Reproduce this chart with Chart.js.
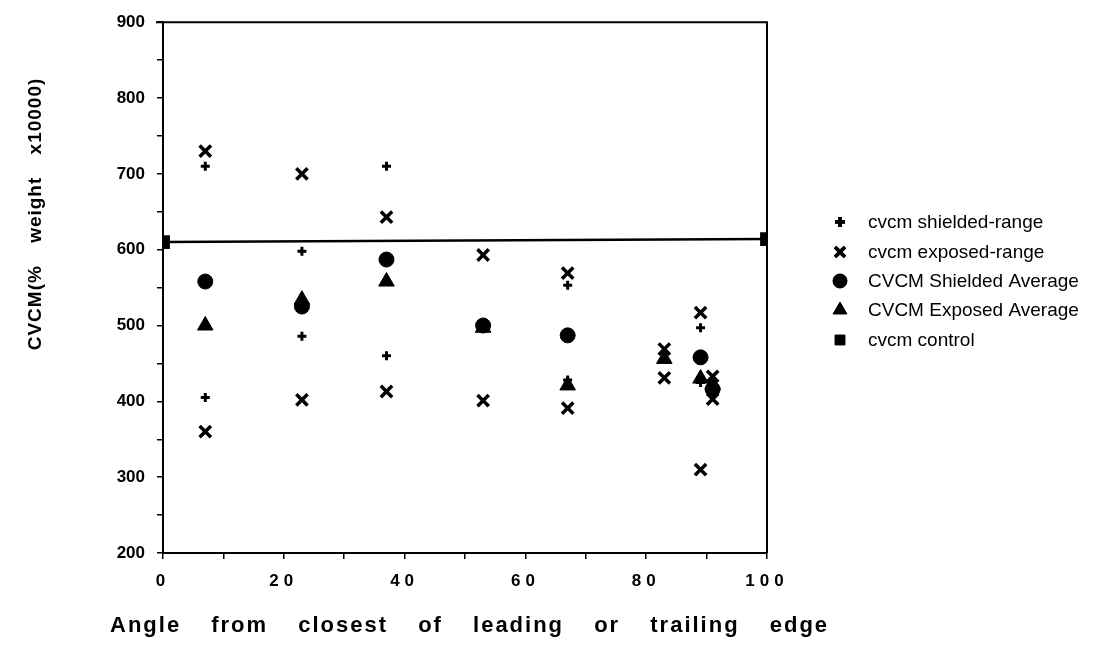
<!DOCTYPE html>
<html>
<head>
<meta charset="utf-8">
<script src="https://cdn.jsdelivr.net/npm/chart.js@4.4.1/dist/chart.umd.min.js"></script>
<style>
  html, body { margin: 0; padding: 0; background: #fff; }
  #wrap { position: relative; width: 1103px; height: 662px; }
</style>
</head>
<body>
<div id="wrap"><canvas id="cvcmChart" width="1103" height="662"></canvas></div>
<script>
// angle positions (deg from closest edge)
var angles = [7, 23, 37, 53, 67, 83, 89, 91];

// shielded range (+)
var shieldedRangeX = [7, 7, 23, 23, 37, 37, 67, 67, 89, 89];
var shieldedRangeY = [710, 405, 598, 486, 710, 460, 553, 428, 497, 425];

// exposed range (x)
var exposedRangeX = [7, 7, 23, 23, 37, 37, 53, 53, 67, 67, 83, 83, 89, 89, 91, 91];
var exposedRangeY = [730, 360, 700, 402, 643, 413, 593, 401, 569, 391, 469, 431, 517, 310, 433, 403];

// averages (null = hidden / not plotted)
var shieldedAvg = [558, 525, 587, 500, 487, null, 458, 416];
var exposedAvg = [500, 534, 558, 497, 421, 456, 430, 422];

// control
var controlX = [0, 100];
var controlY = [610, 614];

var legendLabels = ['cvcm shielded-range', 'cvcm exposed-range', 'CVCM Shielded Average', 'CVCM Exposed Average', 'cvcm control'];

function pairs(xs, ys) {
    return xs.map(function (x, i) { return { x: x, y: ys[i] }; });
}

var styles = [
    { pointStyle: 'cross', radius: 5, border: 3.5 },
    { pointStyle: 'crossRot', radius: 7, border: 3.5 },
    { pointStyle: 'circle', radius: 7, border: 1 },
    { pointStyle: 'triangle', radius: 8, border: 1 },
    { pointStyle: 'rect', radius: 7, border: 1 }
];

// frame on top / right + legend + axis titles
var decor = {
    id: 'decor',
    afterDraw: function (chart) {
        var ctx = chart.ctx;
        var a = chart.chartArea;
        ctx.save();
        ctx.strokeStyle = '#000';
        ctx.lineWidth = 2;
        ctx.beginPath();
        ctx.moveTo(a.left - 7, a.top);
        ctx.lineTo(a.right, a.top);
        ctx.lineTo(a.right, a.bottom);
        ctx.stroke();

        // legend
        ctx.font = '19px "Liberation Sans", Arial, sans-serif';
        ctx.textBaseline = 'middle';
        ctx.fillStyle = '#000';
        var ly = [222, 252, 281, 310, 340];
        legendLabels.forEach(function (t, i) {
            var s = styles[i];
            ctx.lineWidth = s.border;
            Chart.helpers.drawPoint(ctx, { pointStyle: s.pointStyle, radius: s.radius, rotation: 0, borderWidth: s.border }, 840, ly[i]);
            if (s.pointStyle === 'cross' || s.pointStyle === 'crossRot') {
                ctx.stroke();
            } else {
                ctx.fill();
            }
            ctx.fillText(t, 868, ly[i] + 1);
        });

        // y title
        ctx.font = 'bold 19px "Liberation Sans", Arial, sans-serif';
        ctx.textAlign = 'center';
        ctx.wordSpacing = '16px';
        ctx.letterSpacing = '1px';
        ctx.translate(36, 214);
        ctx.rotate(-Math.PI / 2);
        ctx.fillText('CVCM(% weight x10000)', 0, 0);
        ctx.restore();

        // x title
        ctx.save();
        ctx.font = 'bold 22px "Liberation Sans", Arial, sans-serif';
        ctx.fillStyle = '#000';
        ctx.textBaseline = 'middle';
        ctx.textAlign = 'left';
        ctx.wordSpacing = '22px';
        ctx.letterSpacing = '2px';
        ctx.fillText('Angle from closest of leading or trailing edge', 110, 626);
        ctx.restore();
    }
};

var ctx = document.getElementById('cvcmChart').getContext('2d');
var chart = new Chart(ctx, {
    type: 'scatter',
    data: {
        datasets: [{
            label: legendLabels[0],
            data: pairs(shieldedRangeX, shieldedRangeY),
            pointStyle: 'cross', pointRadius: 4.5, pointBorderWidth: 3,
            borderColor: '#000', backgroundColor: '#000'
        }, {
            label: legendLabels[1],
            data: pairs(exposedRangeX, exposedRangeY),
            pointStyle: 'crossRot', pointRadius: 8, pointBorderWidth: 3.5,
            borderColor: '#000', backgroundColor: '#000'
        }, {
            label: legendLabels[2],
            data: pairs(angles, shieldedAvg),
            pointStyle: 'circle', pointRadius: 7.5,
            borderColor: '#000', backgroundColor: '#000'
        }, {
            label: legendLabels[3],
            data: pairs(angles, exposedAvg),
            pointStyle: 'triangle', pointRadius: 9,
            borderColor: '#000', backgroundColor: '#000'
        }, {
            label: legendLabels[4],
            data: pairs(controlX, controlY),
            pointStyle: 'rect', pointRadius: 8,
            showLine: true, borderWidth: 2.5,
            borderColor: '#000', backgroundColor: '#000'
        }]
    },
    options: {
        responsive: false,
        animation: false,
        layout: { padding: { left: 0, top: 16, right: 336, bottom: 0 } },
        plugins: {
            legend: { display: false },
            tooltip: { enabled: false }
        },
        scales: {
            x: {
                type: 'linear',
                min: 0, max: 100,
                afterFit: function (s) { s.height = 109; },
                border: { display: true, color: '#000', width: 2 },
                grid: { drawOnChartArea: false, drawTicks: true, tickLength: 6, color: '#000', lineWidth: 1.5 },
                ticks: {
                    stepSize: 10,
                    color: '#000',
                    padding: 12,
                    maxRotation: 0,
                    font: { family: '"Liberation Sans", Arial, sans-serif', size: 17, weight: 'bold' },
                    callback: function (v) { return v % 20 === 0 ? String(v) : ''; }
                }
            },
            y: {
                type: 'linear',
                min: 200, max: 900,
                afterFit: function (s) { s.width = 163; },
                border: { display: true, color: '#000', width: 2 },
                grid: { drawOnChartArea: false, drawTicks: true, tickLength: 6, color: '#000', lineWidth: 1.5 },
                ticks: {
                    stepSize: 50,
                    color: '#000',
                    padding: 12,
                    font: { family: '"Liberation Sans", Arial, sans-serif', size: 17, weight: 'bold' },
                    callback: function (v) { return v % 100 === 0 ? String(v) : ''; }
                }
            }
        }
    },
    plugins: [decor]
});

// x tick labels are letter-spaced in the original ("2 0")
var xs = chart.scales.x;
var origDrawLabels = xs.drawLabels.bind(xs);
xs.drawLabels = function (area) {
    chart.ctx.save();
    chart.ctx.letterSpacing = '5px';
    origDrawLabels(area);
    chart.ctx.restore();
};
chart.draw();
</script>
</body>
</html>
